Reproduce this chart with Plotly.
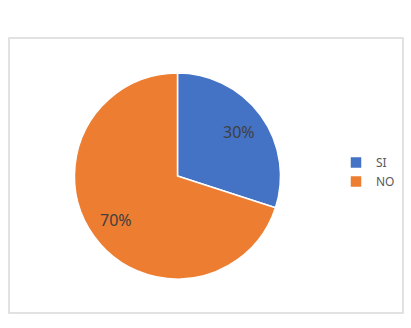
import numpy as np
import plotly.graph_objects as go

labels = ["SI", "NO"]
values = [30, 70]
colors = ["#4472C4", "#ED7D31"]

W, H = 411, 328
FONT = "Noto Sans"

# pie geometry (pixels, from top-left)
px0, px1, py0, py1 = 74, 281, 73, 279

fig = go.Figure()
fig.add_trace(go.Pie(
    labels=labels,
    values=values,
    sort=False,
    direction="clockwise",
    rotation=0,
    marker=dict(colors=colors, line=dict(color="white", width=1.5)),
    textinfo="none",
    domain=dict(x=[px0 / W, px1 / W], y=[1 - py1 / H, 1 - py0 / H]),
    hoverinfo="label+percent",
))

# percentage labels placed at 73% radius along each slice's mid-angle
vals = np.array(values, dtype=float)
frac = vals / vals.sum()
cum = np.cumsum(frac) - frac / 2
cx, cy = (px0 + px1) / 2, (py0 + py1) / 2
R = (px1 - px0) / 2
for f, m in zip(frac, cum):
    ang = 2 * np.pi * m
    x = cx + 0.73 * R * np.sin(ang)
    y = cy - 0.73 * R * np.cos(ang)
    fig.add_annotation(x=x / W, y=1 - y / H, xref="paper", yref="paper",
                       text=f"{round(f * 100)}%", showarrow=False,
                       font=dict(family=FONT, size=16, color="#404040"),
                       xanchor="center", yanchor="middle")

fig.add_shape(type="rect", xref="paper", yref="paper",
              x0=9 / W, x1=403 / W, y0=15 / H, y1=290 / H,
              line=dict(color="#D9D9D9", width=1.5), fillcolor="rgba(0,0,0,0)")

fig.update_layout(
    width=W, height=H,
    margin=dict(l=0, r=0, t=0, b=0),
    paper_bgcolor="white",
    plot_bgcolor="white",
    showlegend=True,
    legend=dict(x=336 / W, y=1 - 172 / H, xanchor="left", yanchor="middle",
                font=dict(family=FONT, size=12, color="#595959"),
                itemwidth=30,
                bgcolor="rgba(0,0,0,0)"),
)

fig.write_html("out.html")
